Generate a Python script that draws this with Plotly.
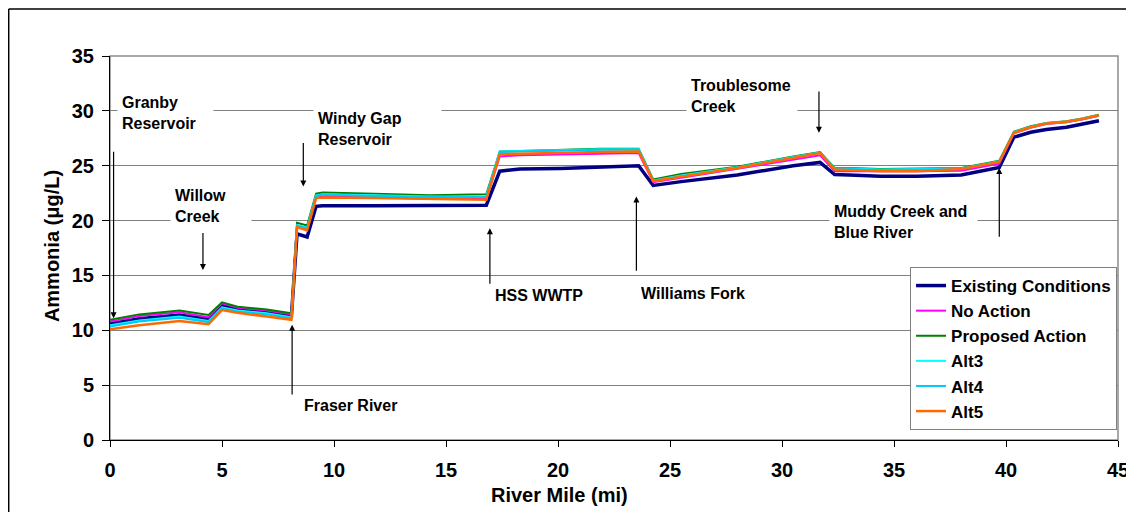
import plotly.graph_objects as go

river_mile = [0, 1.3, 3.1, 4.4, 5.0, 5.7, 7.0, 8.1, 8.35, 8.8, 9.2, 9.5, 11.8, 14.3, 16.8,
              17.4, 18.3, 20.1, 21.9, 23.6, 24.25, 25.5, 28.0, 30.5, 31.7, 32.35, 33.0,
              34.4, 36.0, 38.0, 39.7, 40.35, 41.1, 41.8, 42.7, 43.4, 44.15]

existing = [10.6, 11.05, 11.4, 11.0, 12.3, 11.95, 11.65, 11.3, 18.8, 18.5, 21.3, 21.35, 21.35,
            21.35, 21.4, 24.5, 24.7, 24.75, 24.85, 25.0, 23.2, 23.55, 24.15, 25.0, 25.3, 24.2,
            24.15, 24.05, 24.05, 24.15, 24.85, 27.6, 28.05, 28.3, 28.5, 28.8, 29.1]
no_action = [10.8, 11.3, 11.65, 11.2, 12.45, 12.05, 11.8, 11.45, 19.5, 19.25, 22.1, 22.2, 22.1,
             22.0, 22.0, 25.85, 25.95, 26.05, 26.1, 26.15, 23.5, 23.9, 24.7, 25.55, 25.95, 24.5,
             24.5, 24.45, 24.5, 24.55, 25.2, 27.95, 28.45, 28.8, 28.95, 29.2, 29.55]
proposed = [10.95, 11.45, 11.8, 11.4, 12.55, 12.15, 11.9, 11.55, 19.8, 19.55, 22.45, 22.55, 22.45,
            22.3, 22.4, 26.3, 26.35, 26.45, 26.55, 26.55, 23.75, 24.25, 24.9, 25.85, 26.25, 24.8,
            24.8, 24.7, 24.75, 24.8, 25.45, 28.1, 28.6, 28.9, 29.05, 29.3, 29.65]
alt3 = [10.45, 10.9, 11.25, 10.85, 12.1, 11.8, 11.55, 11.2, 19.6, 19.35, 22.3, 22.4, 22.3, 22.2,
        22.2, 26.3, 26.35, 26.45, 26.5, 26.5, 23.65, 24.1, 24.85, 25.8, 26.2, 24.75, 24.75, 24.65,
        24.7, 24.75, 25.4, 28.05, 28.55, 28.9, 29.0, 29.3, 29.6]
alt4 = [10.35, 10.8, 11.15, 10.75, 12.0, 11.7, 11.45, 11.1, 19.55, 19.3, 22.25, 22.35, 22.25,
        22.15, 22.15, 26.25, 26.3, 26.4, 26.45, 26.45, 23.6, 24.05, 24.8, 25.75, 26.15, 24.7,
        24.7, 24.6, 24.65, 24.7, 25.35, 28.0, 28.5, 28.85, 28.95, 29.25, 29.55]
alt5 = [10.1, 10.45, 10.85, 10.55, 11.85, 11.6, 11.25, 10.95, 19.4, 19.1, 22.05, 22.1, 22.05,
        21.95, 21.9, 26.05, 26.1, 26.2, 26.25, 26.3, 23.6, 24.0, 24.8, 25.7, 26.15, 24.65, 24.6,
        24.5, 24.5, 24.7, 25.35, 28.0, 28.5, 28.85, 29.0, 29.25, 29.6]

series_names = ["Existing Conditions", "No Action", "Proposed Action", "Alt3", "Alt4", "Alt5"]
series_values = [existing, no_action, proposed, alt3, alt4, alt5]
series_colors = ["#000080", "#FF00FF", "#008000", "#00FFFF", "#00C8F8", "#FF6A00"]
series_widths = [3.5, 2, 2, 2, 2, 2.5]

x_ticks = [0, 5, 10, 15, 20, 25, 30, 35, 40, 45]
y_ticks = [0, 5, 10, 15, 20, 25, 30, 35]

# label text, x, y (data), box width px
labels = [
    ("Granby<br>Reservoir", 0.31, 29.85, 87),
    ("Windy Gap<br>Reservoir", 9.06, 28.32, 119),
    ("Willow<br>Creek", 2.68, 21.33, 72),
    ("Troublesome<br>Creek", 25.7, 31.4, 102),
    ("Muddy Creek and<br>Blue River", 32.1, 19.83, 139),
    ("HSS WWTP", 16.96, 13.13, 90),
    ("Williams Fork", 23.48, 13.31, 110),
    ("Fraser River", 8.44, 3.1, 100),
]
# arrows: x, tail y, head y
arrows = [
    (0.16, 26.4, 11.1),
    (4.15, 19.0, 15.5),
    (8.63, 27.2, 23.1),
    (8.13, 4.0, 10.5),
    (16.96, 14.1, 19.3),
    (23.5, 15.3, 22.2),
    (31.65, 31.9, 28.0),
    (39.7, 18.4, 24.8),
]

FONT = "Liberation Sans, Arial, sans-serif"

fig = go.Figure()
for name, vals, col, w in zip(series_names, series_values, series_colors, series_widths):
    fig.add_trace(go.Scatter(x=river_mile, y=vals, mode="lines", name=name,
                             line=dict(color=col, width=w)))

annotations = []
for txt, x, y, w in labels:
    annotations.append(dict(text=txt, x=x, y=y, xref="x", yref="y", xanchor="left",
                            yanchor="middle", showarrow=False, align="left", width=w,
                            bgcolor="white", borderpad=4,
                            font=dict(family=FONT, size=16, color="black", weight="bold")))
for x, ty, hy in arrows:
    annotations.append(dict(text="", x=x, y=hy, ax=x, ay=ty, xref="x", yref="y",
                            axref="x", ayref="y", showarrow=True, arrowhead=2,
                            arrowsize=1, arrowwidth=1.2, arrowcolor="black", standoff=0))
annotations.append(dict(text="River Mile (mi)", x=0.4464, y=-0.142, xref="paper", yref="paper",
                        showarrow=False, xanchor="center", yanchor="middle",
                        font=dict(family=FONT, size=20, color="black", weight="bold")))
annotations.append(dict(text="Ammonia (μg/L)", x=-0.0575, y=0.505, xref="paper", yref="paper",
                        showarrow=False, xanchor="center", yanchor="middle", textangle=-90,
                        font=dict(family=FONT, size=20, color="black", weight="bold")))

shapes = [
    dict(type="rect", xref="paper", yref="paper", x0=0, x1=1, y0=0, y1=1,
         line=dict(color="#8c8c8c", width=1.5), layer="below"),
    # chart-area frame (only left and top edges fall inside the picture)
    dict(type="line", xref="paper", yref="paper", x0=-0.1005, x1=1.2, y0=1.1224, y1=1.1224,
         line=dict(color="black", width=1.5), layer="below"),
    dict(type="line", xref="paper", yref="paper", x0=-0.1005, x1=-0.1005, y0=-0.4, y1=1.1224,
         line=dict(color="black", width=1.5), layer="below"),
]

fig.update_layout(
    width=1134, height=512,
    margin=dict(l=102, r=24, t=48, b=80),
    paper_bgcolor="white", plot_bgcolor="white",
    showlegend=True,
    legend=dict(x=0.7937, y=0.4505, xanchor="left", yanchor="top",
                bgcolor="white", bordercolor="#808080", borderwidth=1,
                font=dict(family=FONT, size=17, color="black", weight="bold"),
                tracegroupgap=0),
    xaxis=dict(range=[0, 45], tickvals=x_ticks, showgrid=False, zeroline=False,
               showline=True, linecolor="black", linewidth=1,
               ticks="outside", ticklen=6, tickcolor="black",
               tickfont=dict(family=FONT, size=20, color="black", weight="bold"),
               ticklabelstandoff=6),
    yaxis=dict(range=[0, 35], tickvals=y_ticks, showgrid=True, gridcolor="#808080",
               gridwidth=1, zeroline=False,
               showline=True, linecolor="black", linewidth=1,
               ticks="outside", ticklen=7, tickcolor="black",
               tickfont=dict(family=FONT, size=20, color="black", weight="bold"),
               ticklabelstandoff=4),
    annotations=annotations,
    shapes=shapes,
)

fig.write_html("out.html")
